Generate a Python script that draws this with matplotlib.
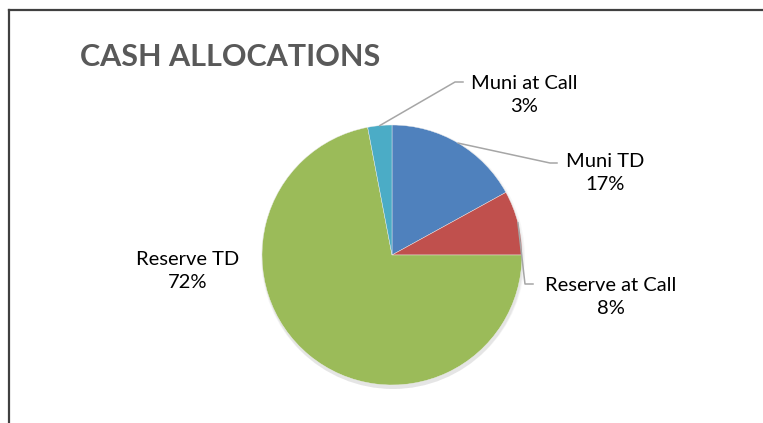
import numpy as np
import matplotlib
matplotlib.use('Agg')
import matplotlib.pyplot as plt
from matplotlib.patches import Circle

# ==================== DATA ====================
labels = ["Muni TD", "Reserve at Call", "Reserve TD", "Muni at Call"]
shares = [17, 8, 72, 3]
colors = ["#4F81BD", "#C0504D", "#9BBB59", "#4BACC6"]
title = "CASH ALLOCATIONS"

# label placement in pixel space (x, y from top), and leader elbow points
label_pos = {
    "Muni TD": (605, 173),
    "Reserve at Call": (611, 297),
    "Reserve TD": (188, 271),
    "Muni at Call": (524, 95),
}
elbows = {
    "Muni TD": [(550, 163), (557, 163)],
    "Reserve at Call": [(525, 284), (533, 284)],
    "Muni at Call": [(455, 82), (463, 82)],
}

W, H = 763, 423
CX, CY, R = 392, 255, 130

plt.rcParams['font.family'] = ['Lato', 'DejaVu Sans']

fig = plt.figure(figsize=(W / 100, H / 100), dpi=100)
ax = fig.add_axes([0, 0, 1, 1])

# soft shadow under the pie
for k, a in enumerate([0.03, 0.03, 0.04]):
    ax.add_patch(Circle((CX + 1, H - CY - 2 - k), R + 2 - k, color='black',
                        alpha=a, lw=0, zorder=0))

wedges, _ = ax.pie(shares, colors=colors, startangle=90, counterclock=False,
                   center=(CX, H - CY), radius=R, frame=True,
                   wedgeprops=dict(linewidth=0.3, edgecolor='#eeeeee'))

# labels + leader lines
for w, name, pct in zip(wedges, labels, shares):
    lx, ly = label_pos[name]
    ax.text(lx, H - ly, f"{name}\n{pct}%", ha='center', va='center',
            fontsize=14.5, color='black', linespacing=1.42)
    if name in elbows:
        mid = np.deg2rad((w.theta1 + w.theta2) / 2)
        sx = CX + R * np.cos(mid)
        sy = H - CY + R * np.sin(mid)
        pts = [(sx, sy)] + [(x, H - y) for x, y in elbows[name]]
        xs, ys = zip(*pts)
        ax.plot(xs, ys, color='#a6a6a6', lw=1.1, zorder=5)

ax.text(80, H - 57, title, ha='left', va='center', fontsize=22,
        fontweight='bold', color='#595959')

# chart frame (cropped at right/bottom)
ax.plot([9, W], [H - 10, H - 10], color='#404040', lw=1.6)
ax.plot([9, 9], [H - 10, 0], color='#404040', lw=1.6)

ax.set_xlim(0, W)
ax.set_ylim(0, H)
ax.set_aspect('auto')
ax.axis('off')

fig.savefig('out.png', dpi=100, facecolor='white')
